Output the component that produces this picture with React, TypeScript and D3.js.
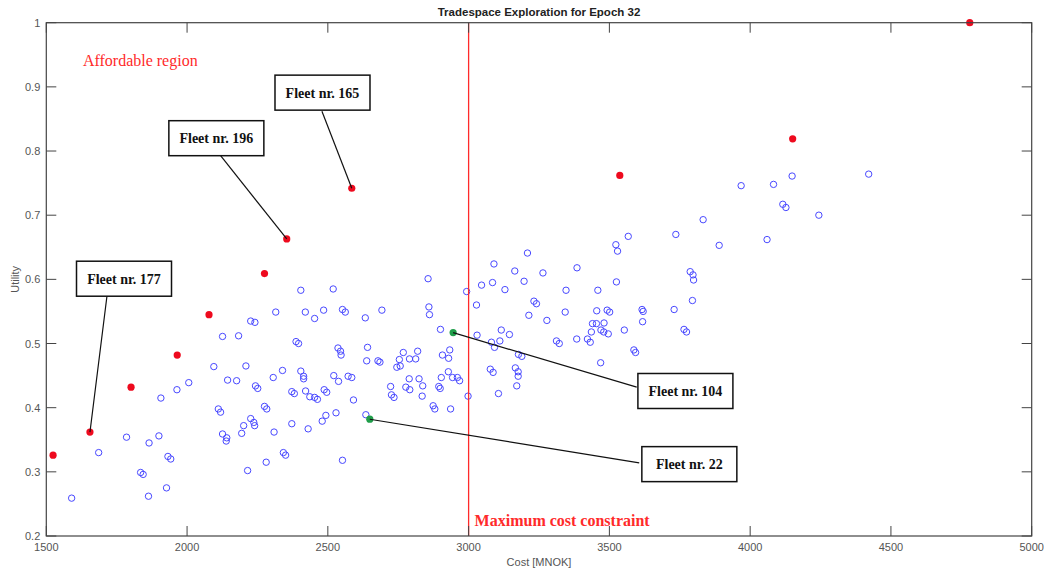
// @ts-nocheck

import { useEffect, useRef } from "react";
import * as d3 from "d3";

// blue circles: all fleets in the tradespace [cost, utility]
const fleetCost = [
  1590, 1686, 1785, 1835, 1844, 1865, 1863, 1900, 1907, 1927, 1932, 1942, 1964, 2006, 2095, 2111, 2119, 2126, 2126, 2141,
  2139, 2144, 2176, 2183, 2194, 2201, 2209, 2215, 2226, 2241, 2226, 2237, 2240, 2243, 2251, 2275, 2283, 2281, 2306, 2309,
  2315, 2339, 2342, 2350, 2372, 2372, 2381, 2387, 2396, 2404, 2404, 2414, 2414, 2420, 2421, 2430, 2436, 2453, 2453, 2463,
  2480, 2485, 2487, 2496, 2493, 2519, 2521, 2529, 2536, 2538, 2545, 2547, 2552, 2562, 2552, 2572, 2633, 2641, 2638, 2585,
  2591, 2635, 3209, 3090, 3164, 3264, 3385, 2856, 3046, 3085, 3197, 3129, 2993, 3346, 3028, 3232, 3241, 2692, 2859, 2861,
  3214, 3343, 3278, 2900, 3030, 3116, 3145, 3081, 3092, 3111, 3177, 3189, 3312, 3322, 3384, 2678, 2685, 2768, 2819, 2754,
  2790, 2812, 2745, 2757, 2907, 2929, 2933, 3077, 3087, 3166, 3176, 3176, 2789, 2824, 2723, 2726, 2735, 2791, 2777, 2837,
  2835, 2903, 2894, 2899, 2928, 2943, 2960, 2968, 2874, 2880, 2936, 2998, 3106, 3171, 3459, 3455, 3492, 3501, 3616, 3620,
  3618, 3553, 3440, 3454, 3481, 3436, 3470, 3480, 3496, 3422, 3432, 3469, 3587, 3593, 3765, 3774, 3730, 3525, 3736, 3567,
  3523, 3529, 3890, 4060, 3833, 3787, 3797, 3799, 3795, 3968, 4083, 4149, 4421, 4116, 4127, 4244,
];
const fleetUtility = [
  0.259, 0.33, 0.354, 0.299, 0.296, 0.345, 0.262, 0.356, 0.415, 0.275, 0.324, 0.32, 0.428, 0.439, 0.464, 0.398, 0.393, 0.511, 0.359, 0.353,
  0.348, 0.443, 0.442, 0.512, 0.36, 0.372, 0.465, 0.302, 0.535, 0.533, 0.383, 0.377, 0.372, 0.434, 0.43, 0.402, 0.398, 0.315, 0.447, 0.362,
  0.549, 0.458, 0.33, 0.326, 0.375, 0.425, 0.422, 0.503, 0.5, 0.583, 0.457, 0.449, 0.445, 0.549, 0.426, 0.367, 0.417, 0.539, 0.416, 0.413,
  0.379, 0.552, 0.428, 0.424, 0.388, 0.585, 0.45, 0.392, 0.493, 0.441, 0.488, 0.482, 0.553, 0.549, 0.318, 0.449, 0.54, 0.494, 0.473, 0.447,
  0.412, 0.389, 0.641, 0.624, 0.613, 0.61, 0.618, 0.601, 0.591, 0.595, 0.597, 0.584, 0.581, 0.583, 0.56, 0.566, 0.562, 0.552, 0.557, 0.545,
  0.544, 0.549, 0.536, 0.522, 0.513, 0.521, 0.514, 0.502, 0.494, 0.504, 0.483, 0.48, 0.504, 0.5, 0.507, 0.473, 0.471, 0.486, 0.488, 0.475,
  0.476, 0.476, 0.463, 0.465, 0.482, 0.477, 0.49, 0.46, 0.455, 0.462, 0.456, 0.449, 0.445, 0.445, 0.433, 0.42, 0.416, 0.428, 0.432, 0.434,
  0.418, 0.447, 0.433, 0.43, 0.456, 0.447, 0.447, 0.442, 0.403, 0.398, 0.398, 0.418, 0.422, 0.434, 0.583, 0.551, 0.552, 0.549, 0.553, 0.55,
  0.534, 0.521, 0.531, 0.531, 0.532, 0.518, 0.521, 0.518, 0.515, 0.507, 0.502, 0.47, 0.49, 0.486, 0.522, 0.518, 0.553, 0.596, 0.67, 0.667,
  0.654, 0.644, 0.653, 0.662, 0.693, 0.612, 0.607, 0.599, 0.567, 0.746, 0.748, 0.761, 0.764, 0.717, 0.712, 0.7,
];

// red filled dots: pareto front
const paretoCost = [1524, 1655, 1801, 1965, 2078, 2275, 2354, 2585, 3537, 4151, 4780];
const paretoUtility = [0.326, 0.362, 0.432, 0.482, 0.545, 0.609, 0.663, 0.742, 0.762, 0.819, 1.0];

// green filled dots: selected fleets
const selectedCost = [2945, 2649];
const selectedUtility = [0.517, 0.382];

const costTicks = [1500, 2000, 2500, 3000, 3500, 4000, 4500, 5000];
const utilityTicks = [0.2, 0.3, 0.4, 0.5, 0.6, 0.7, 0.8, 0.9, 1];
const maxCost = 3000;

// annotation labels, the fleet they point at, and where the box sits (data units)
const annotations = [
  { label: "Fleet nr. 165", to: [2585, 0.742], tail: [2479, 0.862], box: [2481, 0.891] },
  { label: "Fleet nr. 196", to: [2354, 0.663], tail: [2117, 0.794], box: [2104, 0.82] },
  { label: "Fleet nr. 177", to: [1655, 0.362], tail: [1716, 0.576], box: [1776, 0.601] },
  { label: "Fleet nr. 104", to: [2945, 0.517], tail: [3597, 0.432], box: [3770, 0.426] },
  { label: "Fleet nr. 22", to: [2649, 0.382], tail: [3606, 0.314], box: [3784, 0.312] },
];

const App = () => {
  const ref = useRef(null);

  useEffect(() => {
    const width = 1044;
    const height = 571;
    const margin = { top: 22.7, right: 12.3, bottom: 35, left: 46.3 };

    d3.select(ref.current).selectAll("*").remove();

    const svg = d3
      .select(ref.current)
      .append("svg")
      .attr("width", width)
      .attr("height", height)
      .style("display", "block")
      .style("background", "#fff");

    const x = d3.scaleLinear().domain([1500, 5000]).range([margin.left, width - margin.right]);
    const y = d3.scaleLinear().domain([0.2, 1]).range([height - margin.bottom, margin.top]);

    const axisColor = "#444";
    const tickLen = 10;
    const sans = "Liberation Sans, Arial, sans-serif";
    const serif = "Liberation Serif, Times New Roman, serif";

    // blue circles
    svg
      .append("g")
      .selectAll("circle")
      .data(fleetCost.map((c, i) => [c, fleetUtility[i]]))
      .join("circle")
      .attr("cx", (d) => x(d[0]))
      .attr("cy", (d) => y(d[1]))
      .attr("r", 3.2)
      .attr("fill", "none")
      .attr("stroke", "#4848ff")
      .attr("stroke-width", 1);

    // max cost line
    svg
      .append("line")
      .attr("x1", x(maxCost))
      .attr("x2", x(maxCost))
      .attr("y1", y(1))
      .attr("y2", y(0.2))
      .attr("stroke", "#ff2a2a")
      .attr("stroke-width", 1.3);

    svg
      .append("g")
      .selectAll("circle")
      .data(paretoCost.map((c, i) => [c, paretoUtility[i]]))
      .join("circle")
      .attr("cx", (d) => x(d[0]))
      .attr("cy", (d) => y(d[1]))
      .attr("r", 3.6)
      .attr("fill", "#ee0a1e");

    svg
      .append("g")
      .selectAll("circle")
      .data(selectedCost.map((c, i) => [c, selectedUtility[i]]))
      .join("circle")
      .attr("cx", (d) => x(d[0]))
      .attr("cy", (d) => y(d[1]))
      .attr("r", 3.6)
      .attr("fill", "#1f9e4a");

    // frame + ticks
    const axes = svg.append("g").attr("stroke", axisColor).attr("stroke-width", 1);
    axes
      .append("rect")
      .attr("x", x(1500))
      .attr("y", y(1))
      .attr("width", x(5000) - x(1500))
      .attr("height", y(0.2) - y(1))
      .attr("fill", "none")
      .attr("stroke-width", 1.2);

    costTicks.forEach((t) => {
      axes.append("line").attr("x1", x(t)).attr("x2", x(t)).attr("y1", y(0.2)).attr("y2", y(0.2) - tickLen);
      axes.append("line").attr("x1", x(t)).attr("x2", x(t)).attr("y1", y(1)).attr("y2", y(1) + tickLen);
    });
    utilityTicks.forEach((t) => {
      axes.append("line").attr("x1", x(1500)).attr("x2", x(1500) + tickLen).attr("y1", y(t)).attr("y2", y(t));
      axes.append("line").attr("x1", x(5000)).attr("x2", x(5000) - tickLen).attr("y1", y(t)).attr("y2", y(t));
    });

    svg
      .append("g")
      .selectAll("text")
      .data(costTicks)
      .join("text")
      .attr("x", (d) => x(d))
      .attr("y", y(0.2) + 15)
      .attr("text-anchor", "middle")
      .attr("font-family", sans)
      .attr("font-size", 11)
      .attr("fill", "#555")
      .text((d) => d);

    svg
      .append("g")
      .selectAll("text")
      .data(utilityTicks)
      .join("text")
      .attr("x", x(1500) - 6)
      .attr("y", (d) => y(d) + 4)
      .attr("text-anchor", "end")
      .attr("font-family", sans)
      .attr("font-size", 11)
      .attr("fill", "#555")
      .text((d) => d3.format("~g")(d));

    svg
      .append("text")
      .attr("x", (x(1500) + x(5000)) / 2)
      .attr("y", height - 5)
      .attr("text-anchor", "middle")
      .attr("font-family", sans)
      .attr("font-size", 11)
      .attr("fill", "#555")
      .text("Cost [MNOK]");

    svg
      .append("text")
      .attr("transform", `translate(19, ${(y(0.2) + y(1)) / 2}) rotate(-90)`)
      .attr("text-anchor", "middle")
      .attr("font-family", sans)
      .attr("font-size", 11)
      .attr("fill", "#555")
      .text("Utility");

    svg
      .append("text")
      .attr("x", (x(1500) + x(5000)) / 2)
      .attr("y", 16)
      .attr("text-anchor", "middle")
      .attr("font-family", sans)
      .attr("font-size", 11.5)
      .attr("font-weight", "bold")
      .attr("fill", "#222")
      .text("Tradespace Exploration for Epoch 32");

    svg
      .append("text")
      .attr("x", x(1630))
      .attr("y", y(0.933))
      .attr("font-family", serif)
      .attr("font-size", 16)
      .attr("fill", "#ff2a2a")
      .text("Affordable region");

    svg
      .append("text")
      .attr("x", x(maxCost) + 6)
      .attr("y", y(0.2) - 10)
      .attr("font-family", serif)
      .attr("font-size", 16)
      .attr("font-weight", "bold")
      .attr("fill", "#ff2a2a")
      .text("Maximum cost constraint");

    // annotation boxes
    const boxW = 95;
    const boxH = 35;
    const ann = svg.append("g");
    annotations.forEach((a) => {
      ann
        .append("line")
        .attr("x1", x(a.tail[0]))
        .attr("y1", y(a.tail[1]))
        .attr("x2", x(a.to[0]))
        .attr("y2", y(a.to[1]))
        .attr("stroke", "#111")
        .attr("stroke-width", 1.2);
      ann
        .append("rect")
        .attr("x", x(a.box[0]) - boxW / 2)
        .attr("y", y(a.box[1]) - boxH / 2)
        .attr("width", boxW)
        .attr("height", boxH)
        .attr("fill", "#fff")
        .attr("stroke", "#111")
        .attr("stroke-width", 1.5);
      ann
        .append("text")
        .attr("x", x(a.box[0]))
        .attr("y", y(a.box[1]) + 5)
        .attr("text-anchor", "middle")
        .attr("font-family", serif)
        .attr("font-size", 14)
        .attr("font-weight", "bold")
        .attr("fill", "#111")
        .text(a.label);
    });
  }, []);

  return <div ref={ref} style={{ position: "absolute", left: 0, top: 0 }}></div>;
};

export default App;
